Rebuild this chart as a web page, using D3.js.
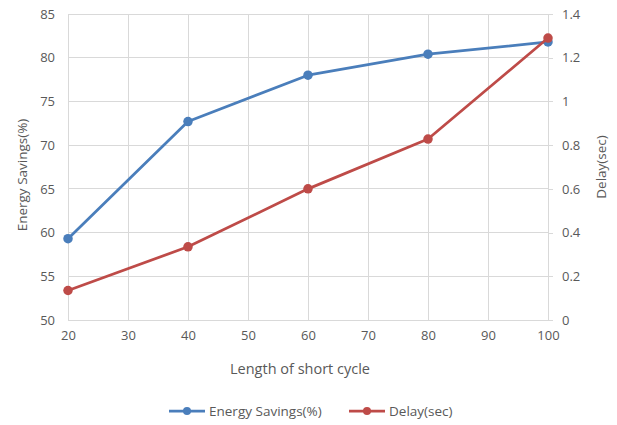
<!DOCTYPE html>
<html>
<head>
<meta charset="utf-8">
<script src="https://cdn.jsdelivr.net/npm/d3@7"></script>
<style>
  body { margin: 0; background: #fff; }
  text { font-family: "Open Sans", "Noto Sans", sans-serif; fill: #595959; }
</style>
</head>
<body>
<svg id="chart" width="617" height="425"></svg>
<script>
// valeurs
const cycleLengths = [20, 40, 60, 80, 100];
const energySavings = [59.3, 72.7, 78.0, 80.4, 81.8];
const delaySec = [0.135, 0.335, 0.60, 0.828, 1.29];
const xTicks = [20, 30, 40, 50, 60, 70, 80, 90, 100];
const leftTicks = [50, 55, 60, 65, 70, 75, 80, 85];
const rightTicks = [0, 0.2, 0.4, 0.6, 0.8, 1, 1.2, 1.4];

const blue = "#4a7ebb", red = "#be4b48", grid = "#d9d9d9";
const plotLeft = 68, plotRight = 548, plotTop = 14, plotBottom = 320;

let svg = d3.select("#chart");

let x = d3.scaleLinear([20, 100], [plotLeft, plotRight]);
let yL = d3.scaleLinear([50, 85], [plotBottom, plotTop]);
let yR = d3.scaleLinear([0, 1.4], [plotBottom, plotTop]);

// grille
svg.append("g").selectAll("line").data(xTicks).join("line")
    .attr("x1", d => x(d)).attr("x2", d => x(d))
    .attr("y1", plotTop).attr("y2", plotBottom)
    .attr("stroke", grid).attr("shape-rendering", "crispEdges");
svg.append("g").selectAll("line").data(leftTicks).join("line")
    .attr("x1", plotLeft).attr("x2", plotRight)
    .attr("y1", d => yL(d)).attr("y2", d => yL(d))
    .attr("stroke", grid).attr("shape-rendering", "crispEdges");

// axes
let xAxis = svg.append("g")
    .attr("transform", `translate(0,${plotBottom})`)
    .call(d3.axisBottom(x).tickValues(xTicks).tickSize(0).tickPadding(11));
let leftAxis = svg.append("g")
    .attr("transform", `translate(${plotLeft},0)`)
    .call(d3.axisLeft(yL).tickValues(leftTicks).tickSize(0).tickPadding(13));
let rightAxis = svg.append("g")
    .attr("transform", `translate(${plotRight},0)`)
    .call(d3.axisRight(yR).tickValues(rightTicks).tickSize(5).tickPadding(9)
        .tickFormat(d => String(+d.toFixed(1))));

[xAxis, leftAxis, rightAxis].forEach(g => {
    g.select(".domain").attr("stroke", grid).attr("shape-rendering", "crispEdges");
    g.selectAll(".tick line").attr("stroke", grid).attr("shape-rendering", "crispEdges");
    g.selectAll("text").attr("font-size", 13).attr("font-family", null).style("fill", "#595959");
});

// titres des axes
svg.append("text")
    .attr("transform", `translate(27,${(plotTop + plotBottom) / 2 + 8}) rotate(-90)`)
    .attr("text-anchor", "middle").attr("font-size", 13.5)
    .text("Energy Savings(%)");
svg.append("text")
    .attr("transform", `translate(606,${(plotTop + plotBottom) / 2}) rotate(-90)`)
    .attr("text-anchor", "middle").attr("font-size", 13.5)
    .text("Delay(sec)");
svg.append("text")
    .attr("x", (plotLeft + plotRight) / 2 - 8).attr("y", 374)
    .attr("text-anchor", "middle").attr("font-size", 14.5)
    .text("Length of short cycle");

// séries
let series = [
    { name: "Energy Savings(%)", values: energySavings, scale: yL, color: blue },
    { name: "Delay(sec)", values: delaySec, scale: yR, color: red }
];

series.forEach(s => {
    let pts = cycleLengths.map((c, i) => [c, s.values[i]]);
    svg.append("path")
        .datum(pts)
        .attr("fill", "none")
        .attr("stroke", s.color)
        .attr("stroke-width", 2.75)
        .attr("stroke-linejoin", "round")
        .attr("d", d3.line().x(d => x(d[0])).y(d => s.scale(d[1])));
    svg.append("g").selectAll("circle").data(pts).join("circle")
        .attr("cx", d => x(d[0])).attr("cy", d => s.scale(d[1]))
        .attr("r", 4.75).attr("fill", s.color);
});

// légende
let legendX = [169, 349];
series.forEach((s, i) => {
    let g = svg.append("g").attr("transform", `translate(${legendX[i]},411)`);
    g.append("line").attr("x1", 0).attr("x2", 36).attr("y1", 0).attr("y2", 0)
        .attr("stroke", s.color).attr("stroke-width", 2.75);
    g.append("circle").attr("cx", 18).attr("cy", 0).attr("r", 4).attr("fill", s.color);
    g.append("text").attr("x", 40).attr("y", 5).attr("font-size", 13.5).text(s.name);
});
</script>
</body>
</html>
